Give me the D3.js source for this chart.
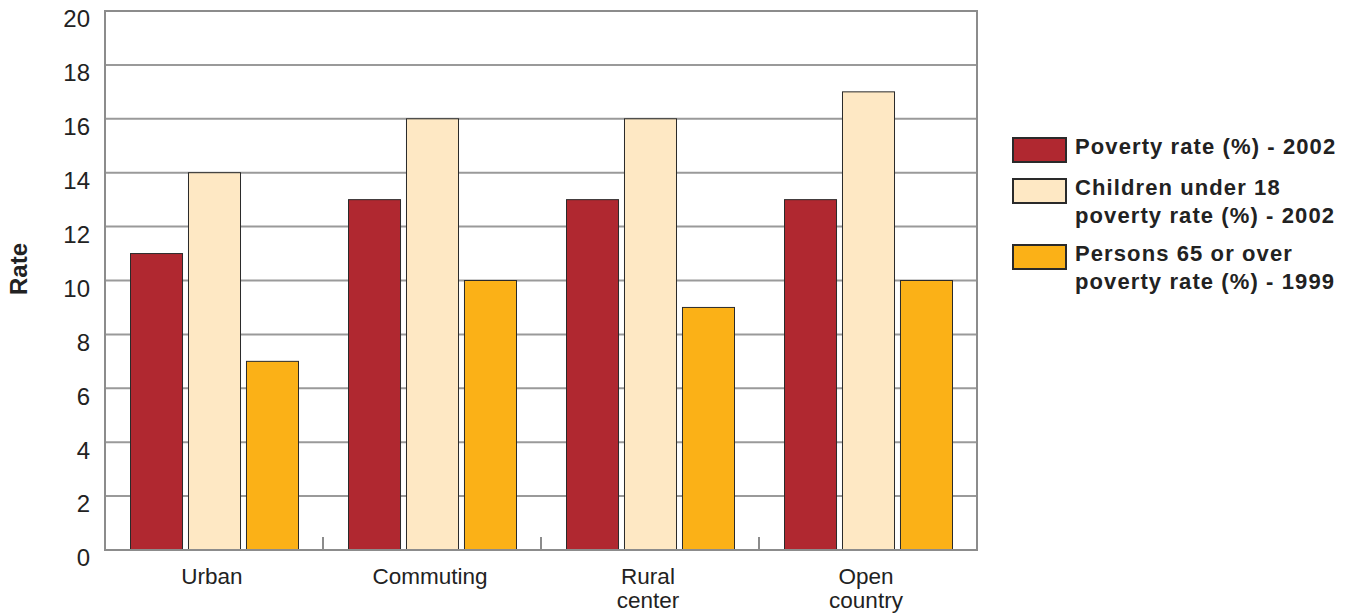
<!DOCTYPE html>
<html>
<head>
<meta charset="utf-8">
<script src="https://cdn.jsdelivr.net/npm/d3@7"></script>
<style>
  html, body { margin: 0; padding: 0; background: #fff; }
  svg { display: block; font-family: "Liberation Sans", Arial, Helvetica, sans-serif; }
</style>
</head>
<body>
<svg id="chart" width="1349" height="613"></svg>
<script>
// Poverty rates by type of county
const categories = [["Urban"], ["Commuting"], ["Rural", "center"], ["Open", "country"]];
const seriesNames = [
  ["Poverty rate (%) - 2002"],
  ["Children under 18", "poverty rate (%) - 2002"],
  ["Persons 65 or over", "poverty rate (%) - 1999"]
];
const seriesColors = ["#b02830", "#fee8c4", "#fbb117"];
const povertyAll = [11, 13, 13, 13];
const povertyChildren = [14, 16, 16, 17];
const povertyElderly = [7, 10, 9, 10];
const yTicks = [0, 2, 4, 6, 8, 10, 12, 14, 16, 18, 20];

const series = [povertyAll, povertyChildren, povertyElderly];
const svg = d3.select("#chart");
const plot = { left: 105, right: 977, top: 11, bottom: 550 };

const catKeys = categories.map(c => c.join(" "));
const x0 = d3.scaleBand().domain(catKeys).range([plot.left, plot.right]).padding(0);
const x1 = d3.scaleBand().domain(d3.range(series.length))
  .range([25.5, x0.bandwidth() - 24.5]).paddingInner(0.103).paddingOuter(0);
const y = d3.scaleLinear().domain([0, 20]).range([plot.bottom, plot.top]);

// horizontal grid lines
svg.append("g").selectAll("line").data(yTicks.filter(t => t > 0 && t < 20)).join("line")
  .attr("x1", plot.left).attr("x2", plot.right)
  .attr("y1", d => y(d)).attr("y2", d => y(d))
  .attr("stroke", "#9a9a9a").attr("stroke-width", 2);

// bars
const groups = svg.append("g").selectAll("g").data(catKeys).join("g")
  .attr("transform", d => `translate(${x0(d)},0)`);
groups.selectAll("rect").data((d, i) => series.map((s, j) => ({ j, v: s[i] }))).join("rect")
  .attr("x", d => x1(d.j))
  .attr("width", x1.bandwidth())
  .attr("y", d => y(d.v))
  .attr("height", d => y(0) - y(d.v))
  .attr("fill", d => seriesColors[d.j])
  .attr("stroke", "#2a2a2a").attr("stroke-width", 1);

// frame
svg.append("rect")
  .attr("x", plot.left).attr("y", plot.top)
  .attr("width", plot.right - plot.left).attr("height", plot.bottom - plot.top)
  .attr("fill", "none").attr("stroke", "#8c8c8c").attr("stroke-width", 2);

// group separator ticks
svg.append("g").selectAll("line").data(catKeys.slice(1)).join("line")
  .attr("x1", d => x0(d)).attr("x2", d => x0(d))
  .attr("y1", plot.bottom).attr("y2", plot.bottom - 13)
  .attr("stroke", "#8c8c8c").attr("stroke-width", 2);

// y axis labels (set slightly below their grid lines)
const yAxis = d3.axisLeft(y).tickValues(yTicks).tickSize(0).tickPadding(15);
const ya = svg.append("g").attr("transform", `translate(${plot.left},0)`).call(yAxis);
ya.select(".domain").remove();
ya.selectAll("text").attr("font-size", 24).attr("fill", "#222")
  .attr("font-family", "Liberation Sans, Arial, sans-serif")
  .attr("dy", "0.66em");

// category labels
const xl = svg.append("g").selectAll("text").data(categories).join("text")
  .attr("x", (d, i) => x0(catKeys[i]) + x0.bandwidth() / 2 - 2)
  .attr("y", 584)
  .attr("text-anchor", "middle").attr("font-size", 22.5).attr("fill", "#222");
xl.selectAll("tspan").data(d => d).join("tspan")
  .attr("x", function () { return this.parentNode.getAttribute("x"); })
  .attr("dy", (d, i) => i === 0 ? 0 : 24)
  .text(d => d);

// y axis title
svg.append("text")
  .attr("transform", "translate(27,269) rotate(-90)")
  .attr("text-anchor", "middle").attr("font-size", 24).attr("font-weight", "bold")
  .attr("fill", "#222").text("Rate");

// legend
const legendTop = [138, 179, 245];
const lg = svg.append("g").selectAll("g").data(seriesNames).join("g")
  .attr("transform", (d, i) => `translate(1013,${legendTop[i]})`);
lg.append("rect").attr("width", 53).attr("height", 24)
  .attr("fill", (d, i) => seriesColors[i]).attr("stroke", "#2a2a2a").attr("stroke-width", 2);
const lt = lg.append("text").attr("x", 62).attr("y", 16)
  .attr("font-size", 22).attr("font-weight", "bold").attr("fill", "#222")
  .attr("letter-spacing", 1.1);
lt.selectAll("tspan").data(d => d).join("tspan")
  .attr("x", 62).attr("dy", (d, i) => i === 0 ? 0 : 28).text(d => d);
</script>
</body>
</html>
